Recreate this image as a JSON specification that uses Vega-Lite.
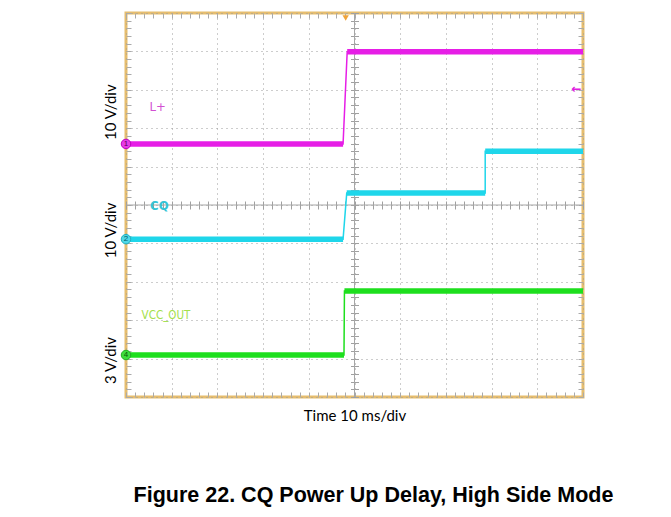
{
  "$schema": "https://vega.github.io/schema/vega-lite/v6.json",
  "width": 457,
  "height": 384,
  "autosize": {"type": "none"},
  "padding": {"left": 126, "top": 13, "right": 88, "bottom": 120},
  "background": "white",
  "title": {
    "text": "Figure 22. CQ Power Up Delay, High Side Mode",
    "orient": "bottom",
    "anchor": "middle",
    "font": "Liberation Sans",
    "fontSize": 21.5,
    "fontWeight": "bold",
    "color": "#000000",
    "offset": 61,
    "dx": 19
  },
  "config": {
    "view": {"stroke": "#e6bd6e", "strokeWidth": 3},
    "axis": {"domain": false, "labels": false, "ticks": false, "grid": false}
  },
  "resolve": {
    "scale": {"y": "independent"},
    "axis": {"x": "independent", "y": "independent"}
  },
  "layer": [
    {
      "data": {"values": [{}]},
      "mark": {"type": "rule", "color": "#a6a6a6", "strokeWidth": 1},
      "encoding": {
        "x": {
          "datum": 50,
          "type": "quantitative",
          "scale": {"domain": [0, 100], "nice": false, "zero": false},
          "axis": {
            "orient": "bottom",
            "tickCount": 50,
            "ticks": true,
            "tickSize": -5,
            "tickColor": "#aaaaaa",
            "grid": true,
            "gridColor": "#9a9a9a",
            "gridDash": [1, 4],
            "gridOpacity": {"condition": {"test": "datum.value % 10 === 0", "value": 1}, "value": 0},
            "title": "Time 10 ms/div",
            "titleFont": "Lato",
            "titleFontSize": 15,
            "titleFontWeight": "normal",
            "titleColor": "#000000",
            "titlePadding": 11
          }
        },
        "y": {
          "datum": 0,
          "type": "quantitative",
          "scale": {"domain": [0, 10], "nice": false, "zero": false},
          "axis": {
            "orient": "left",
            "tickCount": 50,
            "ticks": true,
            "tickSize": -5,
            "tickColor": "#aaaaaa",
            "grid": true,
            "gridColor": "#9a9a9a",
            "gridDash": [1, 4],
            "gridOpacity": {"condition": {"test": "datum.value % 1 === 0", "value": 1}, "value": 0},
            "title": null
          }
        },
        "y2": {"datum": 10}
      }
    },
    {
      "data": {"values": [{}]},
      "mark": {"type": "rule", "color": "#a6a6a6", "strokeWidth": 1},
      "encoding": {
        "y": {
          "datum": 5,
          "type": "quantitative",
          "scale": {"domain": [0, 10], "nice": false, "zero": false},
          "axis": {"orient": "right", "tickCount": 50, "ticks": true, "tickSize": -5, "tickColor": "#aaaaaa", "title": null}
        },
        "x": {
          "datum": 0,
          "type": "quantitative",
          "scale": {"domain": [0, 100], "nice": false, "zero": false},
          "axis": {"orient": "top", "tickCount": 50, "ticks": true, "tickSize": -5, "tickColor": "#aaaaaa", "title": null}
        },
        "x2": {"datum": 100}
      }
    },
    {
      "data": {"values": [{"t": 48.07}]},
      "mark": {"type": "point", "shape": "triangle-down", "filled": true, "color": "#f0a43a", "size": 40, "opacity": 1},
      "encoding": {
        "x": {
          "field": "t",
          "type": "quantitative",
          "scale": {"domain": [0, 100], "nice": false, "zero": false},
          "axis": {"orient": "bottom", "offset": -196, "tickCount": 50, "ticks": true, "tickSize": 8, "tickColor": "#a0a0a0", "title": null}
        },
        "y": {
          "datum": 9.87,
          "type": "quantitative",
          "scale": {"domain": [0, 10], "nice": false, "zero": false},
          "axis": {"orient": "left", "offset": -232.5, "tickCount": 50, "ticks": true, "tickSize": 8, "tickColor": "#a0a0a0", "title": null}
        }
      }
    },
    {
      "encoding": {
        "x": {"field": "t", "type": "quantitative", "scale": {"domain": [0, 100], "nice": false, "zero": false}, "axis": null},
        "y": {
          "field": "v",
          "type": "quantitative",
          "scale": {"domain": [-65.9, 34.1], "nice": false, "zero": false},
          "axis": {"orient": "left", "values": [8.4], "labels": true, "labelExpr": "'10 V/div'", "labelAngle": -90, "labelAlign": "center", "labelBaseline": "alphabetic", "labelPadding": 11, "labelFont": "Lato", "labelFontSize": 15, "labelColor": "#000000", "title": null}
        }
      },
      "layer": [
        {
          "data": {"values": [
            {"t": 0, "v": 0, "seg": "a"},
            {"t": 47.5, "v": 0, "seg": "a"},
            {"t": 48.4, "v": 24, "seg": "b"},
            {"t": 100, "v": 24, "seg": "b"}
          ]},
          "layer": [
            {"mark": {"type": "line", "color": "#e61ee6", "strokeWidth": 1.5}, "encoding": {"order": {"value": null}}},
            {"mark": {"type": "line", "color": "#e61ee6", "strokeWidth": 5.5, "strokeCap": "butt"}, "encoding": {"detail": {"field": "seg"}, "order": {"value": null}}}
          ]
        },
        {
          "data": {"values": [{"t": 0, "v": 0, "n": "1"}]},
          "layer": [
            {"mark": {"type": "point", "shape": "circle", "filled": true, "color": "#e63ce6", "stroke": "#c000c0", "strokeWidth": 1, "size": 90, "opacity": 1}},
            {"mark": {"type": "text", "fontSize": 8, "color": "#5a005a", "align": "center", "baseline": "middle"}, "encoding": {"text": {"field": "n"}}}
          ]
        },
        {
          "data": {"values": [{"t": 6.9, "v": 9.6, "name": "L+"}]},
          "mark": {"type": "text", "font": "Liberation Sans Narrow, DejaVu Sans Condensed, sans-serif", "fontSize": 13, "color": "#d24fd2", "align": "center", "baseline": "middle"},
          "encoding": {"text": {"field": "name"}}
        },
        {
          "data": {"values": [{"t": 98.6, "v": 14.3, "name": "←"}]},
          "mark": {"type": "text", "font": "DejaVu Sans", "fontSize": 12, "fontWeight": "bold", "color": "#e020e0", "align": "center", "baseline": "middle"},
          "encoding": {"text": {"field": "name"}}
        }
      ]
    },
    {
      "encoding": {
        "x": {"field": "t", "type": "quantitative", "scale": {"domain": [0, 100], "nice": false, "zero": false}, "axis": null},
        "y": {
          "field": "v",
          "type": "quantitative",
          "scale": {"domain": [-41.1, 58.9], "nice": false, "zero": false},
          "axis": {"orient": "left", "values": [2.4], "labels": true, "labelExpr": "'10 V/div'", "labelAngle": -90, "labelAlign": "center", "labelBaseline": "alphabetic", "labelPadding": 11, "labelFont": "Lato", "labelFontSize": 15, "labelColor": "#000000", "title": null}
        }
      },
      "layer": [
        {
          "data": {"values": [
            {"t": 0, "v": 0, "seg": "a"},
            {"t": 47.5, "v": 0, "seg": "a"},
            {"t": 48.3, "v": 12, "seg": "b"},
            {"t": 78.6, "v": 12, "seg": "b"},
            {"t": 78.6, "v": 22.9, "seg": "c"},
            {"t": 100, "v": 22.9, "seg": "c"}
          ]},
          "layer": [
            {"mark": {"type": "line", "color": "#1fd6ea", "strokeWidth": 1.5}, "encoding": {"order": {"value": null}}},
            {"mark": {"type": "line", "color": "#1fd6ea", "strokeWidth": 5.5, "strokeCap": "butt"}, "encoding": {"detail": {"field": "seg"}, "order": {"value": null}}}
          ]
        },
        {
          "data": {"values": [{"t": 0, "v": 0, "n": "2"}]},
          "layer": [
            {"mark": {"type": "point", "shape": "circle", "filled": true, "color": "#4fd8e8", "stroke": "#20b0c0", "strokeWidth": 1, "size": 90, "opacity": 1}},
            {"mark": {"type": "text", "fontSize": 8, "color": "#005a66", "align": "center", "baseline": "middle"}, "encoding": {"text": {"field": "n"}}}
          ]
        },
        {
          "data": {"values": [{"t": 7.3, "v": 8.6, "name": "CQ"}]},
          "mark": {"type": "text", "font": "Liberation Sans Narrow, DejaVu Sans Condensed, sans-serif", "fontSize": 13, "fontWeight": "bold", "color": "#35c4d6", "align": "center", "baseline": "middle"},
          "encoding": {"text": {"field": "name"}}
        }
      ]
    },
    {
      "encoding": {
        "x": {"field": "t", "type": "quantitative", "scale": {"domain": [0, 100], "nice": false, "zero": false}, "axis": null},
        "y": {
          "field": "v",
          "type": "quantitative",
          "scale": {"domain": [-3.28, 26.72], "nice": false, "zero": false},
          "axis": {"orient": "left", "values": [-0.39], "labels": true, "labelExpr": "'3 V/div'", "labelAngle": -90, "labelAlign": "center", "labelBaseline": "alphabetic", "labelPadding": 11, "labelFont": "Lato", "labelFontSize": 15, "labelColor": "#000000", "title": null}
        }
      },
      "layer": [
        {
          "data": {"values": [
            {"t": 0, "v": 0, "seg": "a"},
            {"t": 47.7, "v": 0, "seg": "a"},
            {"t": 47.8, "v": 5.0, "seg": "b"},
            {"t": 100, "v": 5.0, "seg": "b"}
          ]},
          "layer": [
            {"mark": {"type": "line", "color": "#1edf1e", "strokeWidth": 1.5}, "encoding": {"order": {"value": null}}},
            {"mark": {"type": "line", "color": "#1edf1e", "strokeWidth": 5.5, "strokeCap": "butt"}, "encoding": {"detail": {"field": "seg"}, "order": {"value": null}}}
          ]
        },
        {
          "data": {"values": [{"t": 0, "v": 0, "n": "4"}]},
          "layer": [
            {"mark": {"type": "point", "shape": "circle", "filled": true, "color": "#3ddd3d", "stroke": "#20b020", "strokeWidth": 1, "size": 90, "opacity": 1}},
            {"mark": {"type": "text", "fontSize": 8, "color": "#0a5a0a", "align": "center", "baseline": "middle"}, "encoding": {"text": {"field": "n"}}}
          ]
        },
        {
          "data": {"values": [{"t": 8.75, "v": 3.05, "name": "VCC_OUT"}]},
          "mark": {"type": "text", "font": "Liberation Sans Narrow, DejaVu Sans Condensed, sans-serif", "fontSize": 11.5, "color": "#a3e04a", "align": "center", "baseline": "middle"},
          "encoding": {"text": {"field": "name"}}
        }
      ]
    }
  ]
}
